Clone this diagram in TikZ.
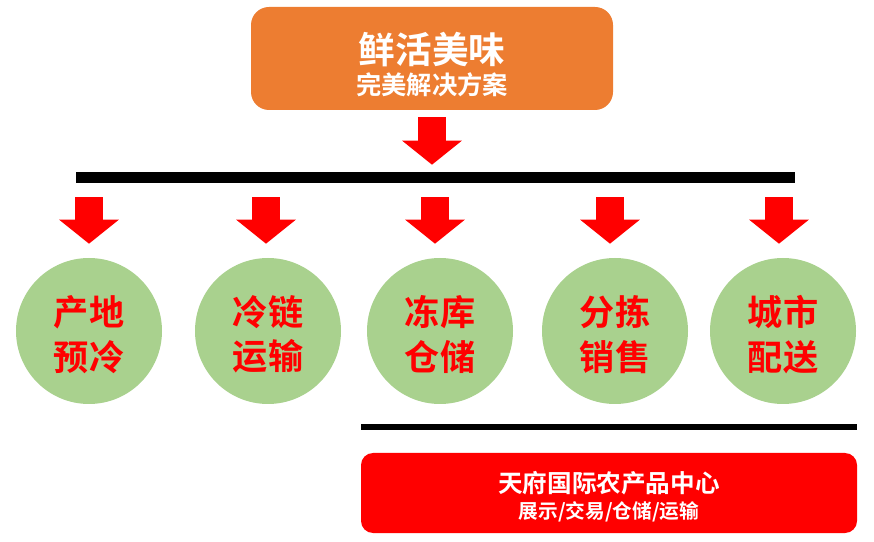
\documentclass[tikz,border=0pt]{standalone}
\usepackage{fontspec}
\setmainfont{Noto Sans CJK SC}[BoldFont=Noto Sans CJK SC Bold]
\usepackage{xcolor}
\usetikzlibrary{arrows.meta,positioning,calc}
\definecolor{solOrange}{RGB}{237,125,49}
\definecolor{stageGreen}{RGB}{169,209,142}
\definecolor{hubRed}{RGB}{255,0,0}

\begin{document}
\begin{tikzpicture}[
    solution/.style={fill=solOrange,rounded corners=0.45cm,
      minimum width=9.05cm,minimum height=2.575cm,align=center,text=white,inner sep=0pt},
    stage/.style={circle,fill=stageGreen,minimum size=3.65cm,align=center,
      text=hubRed,inner sep=0pt,font=\bfseries\fontsize{25}{32}\selectfont},
    bar/.style={fill=black,minimum height=0.275cm,inner sep=0pt},
    hub/.style={fill=hubRed,rounded corners=0.3cm,minimum width=12.4cm,
      minimum height=2cm,align=center,text=white,inner sep=0pt},
    blockarrow/.style={draw=hubRed,line width=0.72cm,
      -{Triangle[width=1.46cm,length=0.6cm]}}
  ]
    \useasboundingbox (0,0) rectangle (21.85,-13.55);

    \node[solution] (sol) at (10.8,-1.4625)
      {\rule{0pt}{31pt}{\bfseries\fontsize{26}{30}\selectfont 鲜活美味}\\[3pt]
       {\bfseries\fontsize{18}{20}\selectfont 完美解决方案}};
    \node[bar,minimum width=17.975cm] (topbar) at (10.8875,-4.4375) {};

    \node[stage] (pre)  at (2.225,-8.275) {\rule{0pt}{26pt}产地\\预冷};
    \node[stage] (cold) at (6.7,-8.275)   {\rule{0pt}{26pt}冷链\\运输};
    \node[stage] (store) at (11.0,-8.275) {\rule{0pt}{26pt}冻库\\仓储};
    \node[stage] (sort) at (15.375,-8.275) {\rule{0pt}{26pt}分拣\\销售};
    \node[stage] (city) at (19.575,-8.275) {\rule{0pt}{26pt}城市\\配送};

    \node[bar,minimum width=12.4cm,minimum height=0.16cm] (lowbar) at (15.225,-10.675) {};
    \node[hub] (center) at (15.225,-12.325)
      {\rule{0pt}{20pt}{\bfseries\fontsize{17.5}{20}\selectfont 天府国际农产品中心}\\[4pt]
       {\bfseries\fontsize{14}{16}\selectfont 展示/交易/仓储/运输}};

    % 主箭头与分支箭头
    \draw[blockarrow,line width=0.68cm,shorten <=0.175cm,shorten >=0.175cm]
      (sol.south) -- (sol.south |- topbar.north);
    \foreach \s/\dx in {pre/0,cold/-0.05,store/-0.125,sort/-0.125,city/-0.1}
      \draw[blockarrow,shorten <=0.35cm,shorten >=0.35cm]
        ([xshift=\dx cm]\s.north |- topbar.south) -- ([xshift=\dx cm]\s.north);
\end{tikzpicture}
\end{document}
